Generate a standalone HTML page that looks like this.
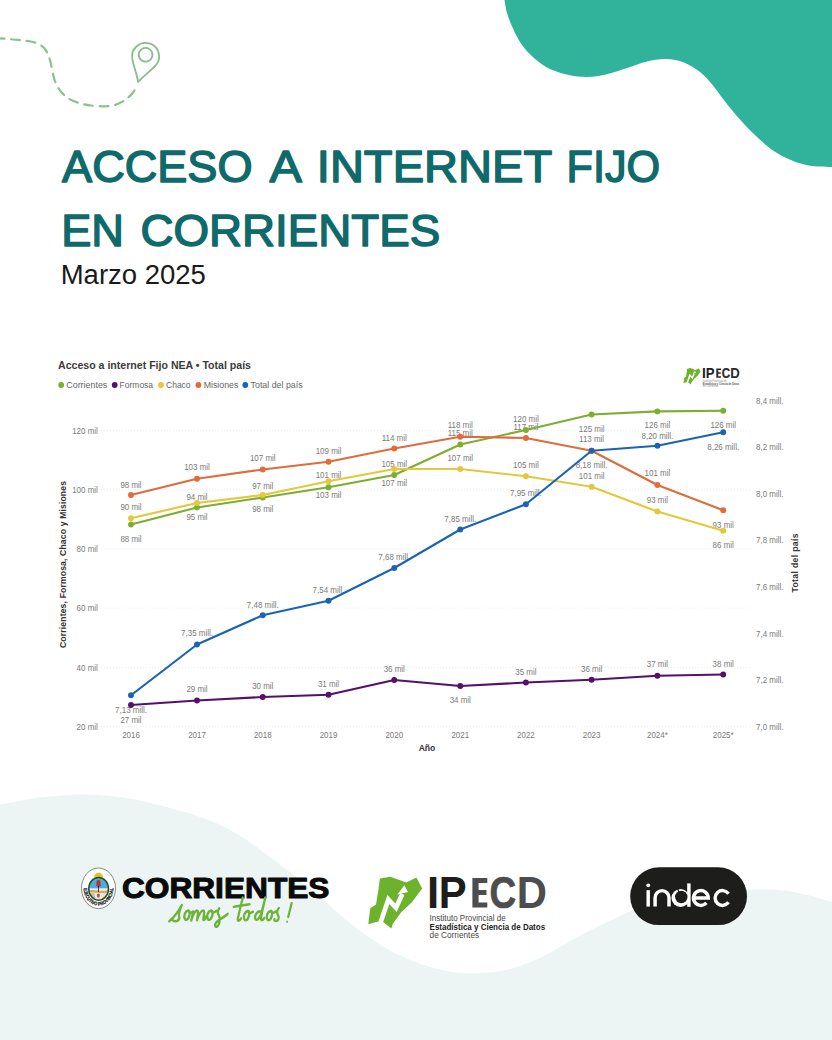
<!DOCTYPE html>
<html lang="es">
<head>
<meta charset="utf-8">
<title>Acceso a internet fijo en Corrientes</title>
<style>
html,body{margin:0;padding:0;background:#fff;}
body{width:832px;height:1040px;position:relative;overflow:hidden;font-family:"Liberation Sans",sans-serif;}
#bg{position:absolute;left:0;top:0;width:832px;height:1040px;}
svg text{font-family:"Liberation Sans",sans-serif;}
.g{stroke:#ebebeb;stroke-width:1;stroke-dasharray:1 2;}
.dl{font-size:9px;fill:#7a7a7a;text-anchor:middle;}
.al{font-size:9px;fill:#7a7a7a;}
.ttl text{font-size:44.8px;fill:#0f6a6b;stroke:#0f6a6b;stroke-width:1.5px;stroke-linejoin:round;}
.ct{font-size:11.2px;font-weight:bold;fill:#3a3a3a;}
.lg{font-size:9.6px;fill:#666;}
.ax{font-size:8.6px;font-weight:bold;fill:#333;text-anchor:middle;}
</style>
</head>
<body>
<svg id="bg" width="832" height="1040" viewBox="0 0 832 1040">
  <!-- top-right blob -->
  <path d="M504.5 0.0 C504.9 2.2 505.8 8.8 507.0 13.0 C508.2 17.2 509.5 20.6 511.7 25.4 C513.9 30.2 516.8 37.1 520.0 42.0 C523.2 46.9 526.5 50.8 530.8 55.0 C535.1 59.2 540.4 63.8 546.0 67.0 C551.6 70.2 558.6 72.4 564.6 74.0 C570.6 75.6 576.4 76.5 582.0 76.8 C587.6 77.1 593.2 76.7 598.4 76.0 C603.6 75.3 608.1 73.9 613.0 72.5 C617.9 71.1 622.3 69.5 628.0 67.7 C633.7 65.9 640.7 63.0 647.0 61.5 C653.3 60.0 659.8 58.8 666.0 59.0 C672.2 59.2 678.3 60.3 684.0 62.5 C689.7 64.7 695.2 68.2 700.0 72.0 C704.8 75.8 708.8 80.6 713.0 85.5 C717.2 90.4 720.5 95.8 725.0 101.5 C729.5 107.2 735.0 113.9 740.0 119.5 C745.0 125.1 749.5 129.8 755.0 135.0 C760.5 140.2 766.7 146.2 773.0 150.5 C779.3 154.8 786.5 158.4 793.0 161.0 C799.5 163.6 805.5 165.0 812.0 166.0 C818.5 167.0 828.7 166.8 832.0 167.0 L832 0 Z" fill="#31b39b"/>
  <!-- bottom waves -->
  <path d="M0.0 804.5 C6.7 803.3 25.7 799.2 40.0 797.5 C54.3 795.8 71.0 794.2 86.0 794.4 C101.0 794.6 115.5 796.1 130.0 798.5 C144.5 800.9 159.9 805.2 173.0 808.8 C186.1 812.4 198.0 815.7 208.8 820.0 C219.6 824.3 228.4 828.8 238.0 834.5 C247.6 840.2 256.9 847.5 266.5 854.5 C276.1 861.5 285.8 868.8 295.4 876.5 C305.0 884.2 314.6 892.8 324.2 901.0 C333.8 909.2 343.4 918.1 353.0 925.6 C362.6 933.1 372.3 940.0 381.9 945.8 C391.5 951.6 401.0 956.2 410.7 960.2 C420.4 964.2 430.8 967.3 440.0 969.5 C449.2 971.7 456.8 972.9 466.0 973.3 C475.2 973.7 486.0 973.2 495.0 972.0 C504.0 970.8 512.5 968.4 520.0 966.0 C527.5 963.6 533.3 961.0 540.0 957.8 C546.7 954.6 553.4 950.7 560.0 947.0 C566.6 943.3 573.1 939.4 579.8 935.8 C586.5 932.2 593.4 928.8 600.0 925.5 C606.6 922.2 613.0 918.9 619.7 915.9 C626.4 912.9 632.5 910.2 640.0 907.5 C647.5 904.8 656.7 901.8 665.0 899.5 C673.3 897.2 681.5 895.4 690.0 894.0 C698.5 892.6 706.5 891.7 716.0 891.0 C725.5 890.3 736.5 890.0 747.0 889.8 C757.5 889.6 769.3 889.2 779.0 890.0 C788.7 890.8 796.2 892.5 805.0 894.5 C813.8 896.5 827.5 900.8 832.0 902.0 L832 1040 L0 1040 Z" fill="#ecf5f4"/>
  <!-- dashed path + pin -->
  <path d="M0 38.4 C5 38.6 9 39 13 39.5 C18 40 23 40.3 28.1 41 C32 41.7 36 42.6 39 44.2 C42.5 46 45 48.5 46.5 51.4 C48.5 55 49.8 59 50.8 63.3 C51.8 68 52.8 73.5 54.1 78.4 C55.6 83.5 58 88.5 61.7 92.5 C65 96.3 69 99.2 73.6 101.1 C79 103.4 85 104.8 90.9 105.5 C96.5 106.2 102.5 106.5 108.2 106.1 C113.5 105.7 119 104 123.3 101.1 C127.3 98.5 130.5 95.8 133 92.5 C135 89.9 136.6 87.3 137.8 84.9" fill="none" stroke="#8ac18c" stroke-width="2.2" stroke-dasharray="8.8 6.8" stroke-dashoffset="4.5" stroke-linecap="round"/>
  <g transform="translate(145.6 56.4) rotate(16.4)" fill="none" stroke="#88bd8a" stroke-width="1.8" stroke-linejoin="round">
    <path d="M0 26.6 C-3 20 -9 12.5 -11.9 6.4 A13.5 13.5 0 1 1 11.9 6.4 C9 12.5 3 20 0 26.6 Z"/>
    <circle cx="-0.5" cy="-1.6" r="6.9"/>
  </g>

  <!-- title -->
  <g class="ttl">
    <text x="62.1" y="182.0" textLength="190.4" lengthAdjust="spacingAndGlyphs">ACCESO</text>
    <text x="269.6" y="182.0" textLength="32.4" lengthAdjust="spacingAndGlyphs">A</text>
    <text x="316.8" y="182.0" textLength="235.4" lengthAdjust="spacingAndGlyphs">INTERNET</text>
    <text x="566.5" y="182.0" textLength="93.6" lengthAdjust="spacingAndGlyphs">FIJO</text>
    <text x="61.2" y="246.0" textLength="62.8" lengthAdjust="spacingAndGlyphs">EN</text>
    <text x="140.4" y="246.0" textLength="299.8" lengthAdjust="spacingAndGlyphs">CORRIENTES</text>
  </g>
  <text x="60.7" y="283.5" font-size="27" fill="#1a1a1a" textLength="145.2" lengthAdjust="spacingAndGlyphs">Marzo 2025</text>
  <!-- chart header -->
  <text x="58" y="369.3" class="ct" textLength="193" lengthAdjust="spacingAndGlyphs">Acceso a internet Fijo NEA • Total país</text>
  <g>
    <circle cx="61.2" cy="385" r="2.9" fill="#7DAE2F"/><text x="66.3" y="388.3" class="lg" textLength="41" lengthAdjust="spacingAndGlyphs">Corrientes</text>
    <circle cx="114.7" cy="385" r="2.9" fill="#55106B"/><text x="119.6" y="388.3" class="lg" textLength="33.5" lengthAdjust="spacingAndGlyphs">Formosa</text>
    <circle cx="161" cy="385" r="2.9" fill="#E2C83A"/><text x="166" y="388.3" class="lg" textLength="24.6" lengthAdjust="spacingAndGlyphs">Chaco</text>
    <circle cx="198.4" cy="385" r="2.9" fill="#DF6C3C"/><text x="203.7" y="388.3" class="lg" textLength="34.7" lengthAdjust="spacingAndGlyphs">Misiones</text>
    <circle cx="245.3" cy="385" r="2.9" fill="#1C63B4"/><text x="250.6" y="388.3" class="lg" textLength="52" lengthAdjust="spacingAndGlyphs">Total del país</text>
  </g>
  <!-- axis titles -->
  <text class="ax" transform="translate(65.6 564.5) rotate(-90)" textLength="167" lengthAdjust="spacing">Corrientes, Formosa, Chaco y Misiones</text>
  <text class="ax" transform="translate(797.8 563) rotate(-90)" textLength="59" lengthAdjust="spacing">Total del país</text>
  <text class="ax" x="427" y="750.5">Año</text>
<line x1="101" y1="430.5" x2="750" y2="430.5" class="g"/>
<line x1="101" y1="489.7" x2="750" y2="489.7" class="g"/>
<line x1="101" y1="548.9" x2="750" y2="548.9" class="g"/>
<line x1="101" y1="608.1" x2="750" y2="608.1" class="g"/>
<line x1="101" y1="667.3" x2="750" y2="667.3" class="g"/>
<line x1="101" y1="726.5" x2="750" y2="726.5" class="g"/>
<text transform="translate(131 487.9) scale(0.885 1)" class="dl">98 mil</text>
<text transform="translate(131 510.1) scale(0.885 1)" class="dl">90 mil</text>
<text transform="translate(131 542.1) scale(0.885 1)" class="dl">88 mil</text>
<text transform="translate(131 712.5) scale(0.885 1)" class="dl">7,13 mill.</text>
<text transform="translate(131 722.5) scale(0.885 1)" class="dl">27 mil</text>
<text transform="translate(197 470.2) scale(0.885 1)" class="dl">103 mil</text>
<text transform="translate(197 499.7) scale(0.885 1)" class="dl">94 mil</text>
<text transform="translate(197 519.7) scale(0.885 1)" class="dl">95 mil</text>
<text transform="translate(197 636.2) scale(0.885 1)" class="dl">7,35 mill.</text>
<text transform="translate(197 692.0) scale(0.885 1)" class="dl">29 mil</text>
<text transform="translate(262.75 461.2) scale(0.885 1)" class="dl">107 mil</text>
<text transform="translate(262.75 488.7) scale(0.885 1)" class="dl">97 mil</text>
<text transform="translate(262.75 511.7) scale(0.885 1)" class="dl">98 mil</text>
<text transform="translate(262.75 607.5) scale(0.885 1)" class="dl">7,48 mill.</text>
<text transform="translate(262.75 688.7) scale(0.885 1)" class="dl">30 mil</text>
<text transform="translate(328.5 453.7) scale(0.885 1)" class="dl">109 mil</text>
<text transform="translate(328.5 478.2) scale(0.885 1)" class="dl">101 mil</text>
<text transform="translate(328.5 497.7) scale(0.885 1)" class="dl">103 mil</text>
<text transform="translate(328.5 592.5) scale(0.885 1)" class="dl">7,54 mill.</text>
<text transform="translate(328.5 687.0) scale(0.885 1)" class="dl">31 mil</text>
<text transform="translate(394.25 440.7) scale(0.885 1)" class="dl">114 mil</text>
<text transform="translate(394.25 467.0) scale(0.885 1)" class="dl">105 mil</text>
<text transform="translate(394.25 486.2) scale(0.885 1)" class="dl">107 mil</text>
<text transform="translate(394.25 560.2) scale(0.885 1)" class="dl">7,68 mill.</text>
<text transform="translate(394.25 671.5) scale(0.885 1)" class="dl">36 mil</text>
<text transform="translate(460.25 428.2) scale(0.885 1)" class="dl">118 mil</text>
<text transform="translate(460.25 435.7) scale(0.885 1)" class="dl">115 mil</text>
<text transform="translate(460.25 461.2) scale(0.885 1)" class="dl">107 mil</text>
<text transform="translate(460.25 521.5) scale(0.885 1)" class="dl">7,85 mill.</text>
<text transform="translate(460.25 702.5) scale(0.885 1)" class="dl">34 mil</text>
<text transform="translate(525.9 422.0) scale(0.885 1)" class="dl">120 mil</text>
<text transform="translate(525.9 430.0) scale(0.885 1)" class="dl">117 mil</text>
<text transform="translate(525.9 467.5) scale(0.885 1)" class="dl">105 mil</text>
<text transform="translate(525.9 495.7) scale(0.885 1)" class="dl">7,95 mill.</text>
<text transform="translate(525.9 674.9) scale(0.885 1)" class="dl">35 mil</text>
<text transform="translate(591.6 432.0) scale(0.885 1)" class="dl">125 mil</text>
<text transform="translate(591.6 442.0) scale(0.885 1)" class="dl">113 mil</text>
<text transform="translate(591.6 468.2) scale(0.885 1)" class="dl">8,18 mill.</text>
<text transform="translate(591.6 478.7) scale(0.885 1)" class="dl">101 mil</text>
<text transform="translate(591.6 671.7) scale(0.885 1)" class="dl">36 mil</text>
<text transform="translate(657.4 428.4) scale(0.885 1)" class="dl">126 mil</text>
<text transform="translate(657.4 438.7) scale(0.885 1)" class="dl">8,20 mill.</text>
<text transform="translate(657.4 476.2) scale(0.885 1)" class="dl">101 mil</text>
<text transform="translate(657.4 503.2) scale(0.885 1)" class="dl">93 mil</text>
<text transform="translate(657.4 667.3) scale(0.885 1)" class="dl">37 mil</text>
<text transform="translate(723.2 428.4) scale(0.885 1)" class="dl">126 mil</text>
<text transform="translate(723.2 449.5) scale(0.885 1)" class="dl">8,26 mill.</text>
<text transform="translate(723.2 527.5) scale(0.885 1)" class="dl">93 mil</text>
<text transform="translate(723.2 548.2) scale(0.885 1)" class="dl">86 mil</text>
<text transform="translate(723.2 666.5) scale(0.885 1)" class="dl">38 mil</text>
<polyline points="131,524.5 197,507.5 262.75,497.5 328.5,487.25 394.25,475 460.25,444.5 525.9,430 591.6,414.5 657.4,411.4 723.2,410.8" fill="none" stroke="#7DAE2F" stroke-width="2.15" stroke-linejoin="round"/>
<circle cx="131" cy="524.5" r="2.95" fill="#7DAE2F"/>
<circle cx="197" cy="507.5" r="2.95" fill="#7DAE2F"/>
<circle cx="262.75" cy="497.5" r="2.95" fill="#7DAE2F"/>
<circle cx="328.5" cy="487.25" r="2.95" fill="#7DAE2F"/>
<circle cx="394.25" cy="475" r="2.95" fill="#7DAE2F"/>
<circle cx="460.25" cy="444.5" r="2.95" fill="#7DAE2F"/>
<circle cx="525.9" cy="430" r="2.95" fill="#7DAE2F"/>
<circle cx="591.6" cy="414.5" r="2.95" fill="#7DAE2F"/>
<circle cx="657.4" cy="411.4" r="2.95" fill="#7DAE2F"/>
<circle cx="723.2" cy="410.8" r="2.95" fill="#7DAE2F"/>
<polyline points="131,705 197,700.5 262.75,697 328.5,694.75 394.25,680 460.25,686 525.9,682.5 591.6,679.7 657.4,675.8 723.2,674.5" fill="none" stroke="#55106B" stroke-width="2.15" stroke-linejoin="round"/>
<circle cx="131" cy="705" r="2.95" fill="#55106B"/>
<circle cx="197" cy="700.5" r="2.95" fill="#55106B"/>
<circle cx="262.75" cy="697" r="2.95" fill="#55106B"/>
<circle cx="328.5" cy="694.75" r="2.95" fill="#55106B"/>
<circle cx="394.25" cy="680" r="2.95" fill="#55106B"/>
<circle cx="460.25" cy="686" r="2.95" fill="#55106B"/>
<circle cx="525.9" cy="682.5" r="2.95" fill="#55106B"/>
<circle cx="591.6" cy="679.7" r="2.95" fill="#55106B"/>
<circle cx="657.4" cy="675.8" r="2.95" fill="#55106B"/>
<circle cx="723.2" cy="674.5" r="2.95" fill="#55106B"/>
<polyline points="131,518.25 197,503 262.75,495 328.5,481.25 394.25,469 460.25,469 525.9,476.25 591.6,486.75 657.4,511.5 723.2,530.75" fill="none" stroke="#E2C83A" stroke-width="2.15" stroke-linejoin="round"/>
<circle cx="131" cy="518.25" r="2.95" fill="#E2C83A"/>
<circle cx="197" cy="503" r="2.95" fill="#E2C83A"/>
<circle cx="262.75" cy="495" r="2.95" fill="#E2C83A"/>
<circle cx="328.5" cy="481.25" r="2.95" fill="#E2C83A"/>
<circle cx="394.25" cy="469" r="2.95" fill="#E2C83A"/>
<circle cx="460.25" cy="469" r="2.95" fill="#E2C83A"/>
<circle cx="525.9" cy="476.25" r="2.95" fill="#E2C83A"/>
<circle cx="591.6" cy="486.75" r="2.95" fill="#E2C83A"/>
<circle cx="657.4" cy="511.5" r="2.95" fill="#E2C83A"/>
<circle cx="723.2" cy="530.75" r="2.95" fill="#E2C83A"/>
<polyline points="131,495 197,478.75 262.75,469.5 328.5,461.75 394.25,448.5 460.25,436.75 525.9,438 591.6,450.75 657.4,485 723.2,510.25" fill="none" stroke="#DF6C3C" stroke-width="2.15" stroke-linejoin="round"/>
<circle cx="131" cy="495" r="2.95" fill="#DF6C3C"/>
<circle cx="197" cy="478.75" r="2.95" fill="#DF6C3C"/>
<circle cx="262.75" cy="469.5" r="2.95" fill="#DF6C3C"/>
<circle cx="328.5" cy="461.75" r="2.95" fill="#DF6C3C"/>
<circle cx="394.25" cy="448.5" r="2.95" fill="#DF6C3C"/>
<circle cx="460.25" cy="436.75" r="2.95" fill="#DF6C3C"/>
<circle cx="525.9" cy="438" r="2.95" fill="#DF6C3C"/>
<circle cx="591.6" cy="450.75" r="2.95" fill="#DF6C3C"/>
<circle cx="657.4" cy="485" r="2.95" fill="#DF6C3C"/>
<circle cx="723.2" cy="510.25" r="2.95" fill="#DF6C3C"/>
<polyline points="131,695.25 197,644.5 262.75,615.25 328.5,600.75 394.25,568 460.25,529.5 525.9,504.25 591.6,450.75 657.4,445.8 723.2,432.2" fill="none" stroke="#1C63B4" stroke-width="2.15" stroke-linejoin="round"/>
<circle cx="131" cy="695.25" r="2.95" fill="#1C63B4"/>
<circle cx="197" cy="644.5" r="2.95" fill="#1C63B4"/>
<circle cx="262.75" cy="615.25" r="2.95" fill="#1C63B4"/>
<circle cx="328.5" cy="600.75" r="2.95" fill="#1C63B4"/>
<circle cx="394.25" cy="568" r="2.95" fill="#1C63B4"/>
<circle cx="460.25" cy="529.5" r="2.95" fill="#1C63B4"/>
<circle cx="525.9" cy="504.25" r="2.95" fill="#1C63B4"/>
<circle cx="591.6" cy="450.75" r="2.95" fill="#1C63B4"/>
<circle cx="657.4" cy="445.8" r="2.95" fill="#1C63B4"/>
<circle cx="723.2" cy="432.2" r="2.95" fill="#1C63B4"/>
<text transform="translate(97.8 433.7) scale(0.885 1)" class="al" text-anchor="end">120 mil</text>
<text transform="translate(97.8 492.9) scale(0.885 1)" class="al" text-anchor="end">100 mil</text>
<text transform="translate(97.8 552.1) scale(0.885 1)" class="al" text-anchor="end">80 mil</text>
<text transform="translate(97.8 611.3) scale(0.885 1)" class="al" text-anchor="end">60 mil</text>
<text transform="translate(97.8 670.5) scale(0.885 1)" class="al" text-anchor="end">40 mil</text>
<text transform="translate(97.8 729.7) scale(0.885 1)" class="al" text-anchor="end">20 mil</text>
<text transform="translate(756 403.7) scale(0.885 1)" class="al">8,4 mill.</text>
<text transform="translate(756 450.2) scale(0.885 1)" class="al">8,2 mill.</text>
<text transform="translate(756 496.8) scale(0.885 1)" class="al">8,0 mill.</text>
<text transform="translate(756 543.4) scale(0.885 1)" class="al">7,8 mill.</text>
<text transform="translate(756 590.0) scale(0.885 1)" class="al">7,6 mill.</text>
<text transform="translate(756 636.6) scale(0.885 1)" class="al">7,4 mill.</text>
<text transform="translate(756 683.2) scale(0.885 1)" class="al">7,2 mill.</text>
<text transform="translate(756 729.8) scale(0.885 1)" class="al">7,0 mill.</text>
<text transform="translate(131 738.2) scale(0.885 1)" class="al" text-anchor="middle">2016</text>
<text transform="translate(197 738.2) scale(0.885 1)" class="al" text-anchor="middle">2017</text>
<text transform="translate(262.75 738.2) scale(0.885 1)" class="al" text-anchor="middle">2018</text>
<text transform="translate(328.5 738.2) scale(0.885 1)" class="al" text-anchor="middle">2019</text>
<text transform="translate(394.25 738.2) scale(0.885 1)" class="al" text-anchor="middle">2020</text>
<text transform="translate(460.25 738.2) scale(0.885 1)" class="al" text-anchor="middle">2021</text>
<text transform="translate(525.9 738.2) scale(0.885 1)" class="al" text-anchor="middle">2022</text>
<text transform="translate(591.6 738.2) scale(0.885 1)" class="al" text-anchor="middle">2023</text>
<text transform="translate(657.4 738.2) scale(0.885 1)" class="al" text-anchor="middle">2024*</text>
<text transform="translate(723.2 738.2) scale(0.885 1)" class="al" text-anchor="middle">2025*</text>
  <!-- mini IPECD logo in chart -->
  <g transform="translate(567.5 91.9) scale(0.315)">
    <path d="M379.9 878.5 L390.4 876.8 L406.3 882.5 L416.4 877.5 L422.2 888.6 L412.1 902.1 L401 912.6 L392.8 923.7 L391.4 928.5 L382.75 921.8 L377 921.8 L368.3 924.2 L370.25 908.3 L376 904.5 L378.4 890 Z" fill="#6db22d"/>
    <path d="M380.2 923.6 L388.4 899.6 L396 907.8 L402.3 894" fill="none" stroke="#ffffff" stroke-width="4.7" stroke-linejoin="miter" stroke-miterlimit="6"/>
    <path d="M404.3 885.3 L397.4 894.4 L408 891.9 Z" fill="#ffffff"/>
    <g font-size="44" font-weight="bold">
      <text x="426.95" y="907.6" fill="#1d1d1b" textLength="12.2" lengthAdjust="spacingAndGlyphs">I</text>
      <text x="438.86" y="907.6" fill="#1d1d1b" textLength="27.9" lengthAdjust="spacingAndGlyphs">P</text>
      <path d="M472.4 877.9 H487.3 V883.1 H478.6 V889.9 H486.5 V895.1 H478.6 V902.4 H487.3 V907.6 H472.4 Z" fill="#2b2b2b"/>
      <text x="489.6" y="907.6" fill="#2b2b2b" stroke="#2b2b2b" stroke-width="0.7" textLength="26.6" lengthAdjust="spacingAndGlyphs">C</text>
      <text x="516.8" y="907.6" fill="#2b2b2b" textLength="30.2" lengthAdjust="spacingAndGlyphs">D</text>
    </g>
    <text x="429.6" y="920.8" font-size="8.3" fill="#8a8a8a" textLength="76" lengthAdjust="spacingAndGlyphs">Instituto Provincial de</text>
    <text x="429.6" y="929.7" font-size="8.3" font-weight="bold" fill="#555" textLength="115.5" lengthAdjust="spacingAndGlyphs">Estadística y Ciencia de Datos</text>
    <text x="429.6" y="938.1" font-size="8.3" fill="#8a8a8a" textLength="49.5" lengthAdjust="spacingAndGlyphs">de Corrientes</text>
  </g>
  <!-- Corrientes emblem -->
  <g id="emblem">
    <ellipse cx="98.5" cy="888.3" rx="17" ry="20.3" fill="#ffffff" stroke="#5a5a5a" stroke-width="0.7"/>
    <path d="M94 877.8 A4.6 5.2 0 0 1 103.2 877.8 Z" fill="#e3c321"/>
    <clipPath id="shc"><ellipse cx="98.6" cy="888.8" rx="9.6" ry="11.2"/></clipPath>
    <g clip-path="url(#shc)">
      <rect x="88" y="876" width="22" height="12.6" fill="#52aadc"/>
      <rect x="88" y="888.6" width="22" height="13" fill="#f3ece2"/>
      <path d="M88 890.5 C92 889.6 95 890 98.6 890.6 C102 891.2 106 890.6 109.5 889.8 L109.5 892.3 C106 893 102 893.6 98.6 893 C95 892.4 92 892.2 88 893 Z" fill="#d9aa63"/>
      <path d="M89 893 L94.5 893 L95.5 900 L90 900 Z" fill="#cdb59d" opacity="0.8"/>
      <path d="M101.5 893 L107.5 893 L106 899 L102 900 Z" fill="#e8e3da"/>
      <ellipse cx="98.4" cy="895.6" rx="1.5" ry="2.2" fill="#c0563a"/>
      <rect x="98.1" y="884" width="0.9" height="8" fill="#3a2a2a"/>
      <ellipse cx="98.5" cy="883" rx="2.1" ry="3" fill="#b8312f"/>
      <path d="M96.3 884.4 C97 886.4 100 886.4 100.7 884.4 L100.7 885.6 C100 887 97 887 96.3 885.6 Z" fill="#3a1f1f"/>
    </g>
    <ellipse cx="98.6" cy="888.8" rx="9.9" ry="11.4" fill="none" stroke="#1d5129" stroke-width="1.5"/>
    <path id="emarc" d="M83.6 888 A14.9 17.6 0 0 0 113.4 888" fill="none"/>
    <text font-size="5" font-weight="bold" fill="#262626" stroke="#262626" stroke-width="0.25"><textPath href="#emarc" startOffset="0.2" textLength="50.6" lengthAdjust="spacingAndGlyphs">EJECUTIVO PROVINCIAL</textPath></text>
  </g>
  <!-- CORRIENTES wordmark -->
  <text x="121.9" y="897.9" font-size="28.6" font-weight="bold" fill="#0b0b0b" stroke="#0b0b0b" stroke-width="1" stroke-linejoin="round" textLength="207.6" lengthAdjust="spacingAndGlyphs">CORRIENTES</text>
  <!-- somos todos! script -->
  <g id="script" transform="translate(160 892.45) scale(0.16827 0.185)" fill="none" stroke="#6db33a" stroke-width="13.5" stroke-linecap="round" stroke-linejoin="round">
    <path d="M55 156 C85 132 112 98 130 68 C118 92 108 112 114 132 C118 148 100 164 74 150"/>
    <path d="M168 98 C150 100 138 128 148 144 C160 158 180 132 176 106 C174 96 166 98 168 100 C175 112 186 112 196 104"/>
    <path d="M196 104 C194 120 190 138 186 152 C194 126 208 100 220 98 C230 98 224 126 220 150 C228 124 244 98 256 98 C268 98 258 130 258 148 C262 152 270 140 276 128"/>
    <path d="M304 98 C286 100 274 128 284 144 C296 158 316 132 312 106 C310 96 302 98 304 100 C312 112 324 110 334 100"/>
    <path d="M352 86 C340 100 340 112 350 124 C360 140 356 172 340 184 C326 190 322 174 336 160 C354 144 380 134 402 116"/>
    <path d="M492 28 C482 66 468 112 462 146 C462 158 474 152 482 140"/>
    <path d="M438 78 C468 72 500 68 532 64"/>
    <path d="M522 100 C504 102 492 130 502 146 C514 160 534 134 530 108 C528 98 520 100 522 102 C530 114 542 112 552 104"/>
    <path d="M598 104 C580 96 560 124 566 142 C574 158 594 140 602 112 C610 84 620 54 626 28 C616 66 604 112 600 140 C600 156 612 150 620 138"/>
    <path d="M658 100 C640 102 628 130 638 146 C650 160 670 134 666 108 C664 98 656 100 658 102 C666 114 678 112 688 102"/>
    <path d="M706 84 C694 98 694 112 702 124 C710 138 704 154 688 154 C680 154 676 148 680 144"/>
    <path d="M782 58 C776 84 768 110 762 132"/>
    <path d="M755 158 L755.5 159" stroke-width="11"/>
  </g>
  <!-- IPECD big logo -->
  <g id="ipecd">
    <path id="ipshape" d="M379.9 878.5 L390.4 876.8 L406.3 882.5 L416.4 877.5 L422.2 888.6 L412.1 902.1 L401 912.6 L392.8 923.7 L391.4 928.5 L382.75 921.8 L377 921.8 L368.3 924.2 L370.25 908.3 L376 904.5 L378.4 890 Z" fill="#6db22d"/>
    <path d="M380.2 923.6 L388.4 899.6 L396 907.8 L402.3 894" fill="none" stroke="#ffffff" stroke-width="4.7" stroke-linejoin="miter" stroke-miterlimit="6"/>
    <path d="M404.3 885.3 L397.4 894.4 L408 891.9 Z" fill="#ffffff"/>
    <g font-size="44" font-weight="bold">
      <text x="426.95" y="907.6" fill="#1d1d1b" textLength="12.2" lengthAdjust="spacingAndGlyphs">I</text>
      <text x="438.86" y="907.6" fill="#1d1d1b" textLength="27.9" lengthAdjust="spacingAndGlyphs">P</text>
      <path d="M472.4 877.9 H487.3 V883.1 H478.6 V889.9 H486.5 V895.1 H478.6 V902.4 H487.3 V907.6 H472.4 Z" fill="#4d4d4d"/>
      <text x="489.6" y="907.6" fill="#4d4d4d" stroke="#4d4d4d" stroke-width="0.7" textLength="26.6" lengthAdjust="spacingAndGlyphs">C</text>
      <text x="516.8" y="907.6" fill="#4d4d4d" textLength="30.2" lengthAdjust="spacingAndGlyphs">D</text>
    </g>
    <text x="429.6" y="920.8" font-size="8.3" fill="#484848" textLength="76" lengthAdjust="spacingAndGlyphs">Instituto Provincial de</text>
    <text x="429.6" y="929.7" font-size="8.3" font-weight="bold" fill="#222" textLength="115.5" lengthAdjust="spacingAndGlyphs">Estadística y Ciencia de Datos</text>
    <text x="429.6" y="938.1" font-size="8.3" fill="#484848" textLength="49.5" lengthAdjust="spacingAndGlyphs">de Corrientes</text>
  </g>
  <!-- indec -->
  <g id="indec">
    <rect x="630.2" y="867.3" width="116.8" height="57.8" rx="28.9" fill="#1d1d1b"/>
    <g fill="none" stroke="#ffffff" stroke-width="3.45">
      <path d="M648.2 890.2 V906.6"/>
      <path d="M655.1 906.6 V897.6 A6.95 6.95 0 0 1 669 897.6 V906.6"/>
      <path d="M688.9 883.4 V906.8"/>
      <path d="M693.50 898.0 H708.30 A7.4 7.4 0 1 0 706.40 902.95"/>
      <path d="M728.49 893.65 A7.4 7.4 0 1 0 728.49 902.35"/>
    </g>
    <circle cx="648.2" cy="885.3" r="1.9" fill="#fff"/>
    <circle cx="680.5" cy="898" r="9" fill="#fff"/>
    <circle cx="681.3" cy="897" r="6.2" fill="#1d1d1b"/>
    <path d="M677.2 888.2 L679.6 893" stroke="#1d1d1b" stroke-width="1.3" fill="none"/>
  </g>

</svg>
</body>
</html>
